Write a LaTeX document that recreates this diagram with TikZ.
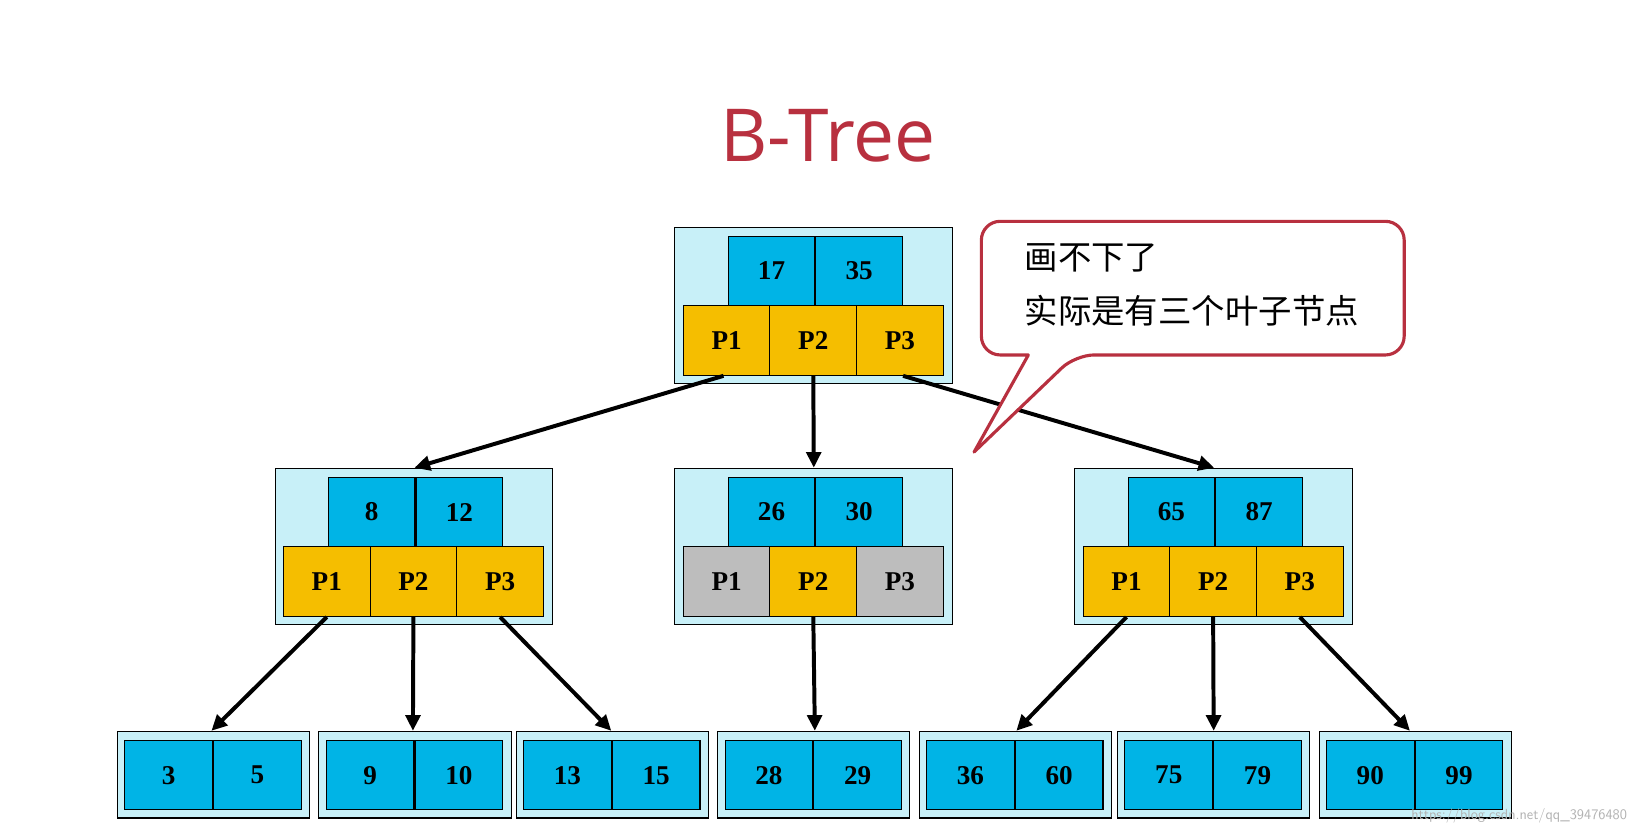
\documentclass[tikz,border=0pt]{standalone}
\usepackage{fontspec}
\setmainfont{Liberation Serif}
\newfontfamily\cjk{Noto Sans CJK SC}
\newfontfamily\ttl{Open Sans}
\usetikzlibrary{arrows.meta}
\definecolor{keyb}{HTML}{00B4E6}
\definecolor{ptry}{HTML}{F5BE00}
\definecolor{boxc}{HTML}{C8F0F8}
\definecolor{gry}{HTML}{BDBDBD}
\definecolor{ttlred}{HTML}{B8303F}
\tikzset{
 outer/.style={draw=black, fill=boxc, line width=1pt, minimum width=266pt, minimum height=150pt, inner sep=0},
 leafo/.style={draw=black, fill=boxc, line width=1pt, minimum width=184pt, minimum height=83pt, inner sep=0},
 cell/.style={draw=black, line width=1pt, font=\bfseries\fontsize{26}{26}\selectfont, inner sep=0},
 keyc/.style={cell, fill=keyb, minimum width=83pt, minimum height=66pt},
 ptr/.style={cell, fill=ptry, minimum width=83pt, minimum height=67pt},
 gptr/.style={ptr, fill=gry},
 leafc/.style={cell, fill=keyb, minimum width=84pt, minimum height=66pt},
 arr/.style={-{Triangle[length=15pt,width=14pt]}, line width=3.8pt},
}
\newcommand{\inode}[6]{%
 \node[outer, anchor=north west] (#1) at (#2,#3) {};%
 \node[keyc, anchor=north east] (#1k1) at (#2+135,#3+9) {#4};%
 \node[keyc, anchor=north west] (#1k2) at (#2+135,#3+9) {#5};%
 #6%
}
\newcommand{\leaf}[4]{%
 \node[leafo, anchor=north west] (#1) at (#2,700) {};%
 \node[leafc, anchor=north east] (#1a) at (#2+92,709) {#3};%
 \node[leafc, anchor=north west] (#1b) at (#2+92,709) {#4};%
}
\begin{document}
\begin{tikzpicture}[x=1pt,y=-1pt]
\fill[white] (0,0) rectangle (1568,799);
\node[text=ttlred, font=\ttl\fontsize{70}{70}\selectfont] (title) at (793,130) {B-Tree};
\inode{r}{646}{217}{17}{35}{%
 \node[ptr, anchor=north west] (rp1) at (654,292) {P1};
 \node[ptr, anchor=north west] (rp2) at (737,292) {P2};
 \node[ptr, anchor=north west] (rp3) at (820,292) {P3};}
\inode{a}{263}{448}{8}{12}{%
 \node[ptr, anchor=north west] (ap1) at (271,523) {P1};
 \node[ptr, anchor=north west] (ap2) at (354,523) {P2};
 \node[ptr, anchor=north west] (ap3) at (437,523) {P3};}
\inode{b}{646}{448}{26}{30}{%
 \node[gptr, anchor=north west] (bp1) at (654,523) {P1};
 \node[ptr, anchor=north west] (bp2) at (737,523) {P2};
 \node[gptr, anchor=north west] (bp3) at (820,523) {P3};}
\inode{c}{1029}{448}{65}{87}{%
 \node[ptr, anchor=north west] (cp1) at (1037,523) {P1};
 \node[ptr, anchor=north west] (cp2) at (1120,523) {P2};
 \node[ptr, anchor=north west] (cp3) at (1203,523) {P3};}
\leaf{l1}{112}{3}{5}
\leaf{l2}{305}{9}{10}
\leaf{l3}{494}{13}{15}
\leaf{l4}{687}{28}{29}
\leaf{l5}{880}{36}{60}
\leaf{l6}{1070}{75}{79}
\leaf{l7}{1263}{90}{99}
\draw[arr] ([xshift=-3pt]rp1.south) -- ([xshift=-133pt]a.north east);
\draw[arr] (rp2.south) -- (b.north);
\draw[arr] ([xshift=3pt]rp3.south) -- ([xshift=-133pt]c.north east);
\draw[arr] (ap1.south) -- ([xshift=-2pt]l1.north);
\draw[arr] (ap2.south) -- ([xshift=-2pt]l2.north);
\draw[arr] (ap3.south) -- ([xshift=-1pt]l3.north);
\draw[arr] (bp2.south) -- ([xshift=1pt]l4.north);
\draw[arr] (cp1.south) -- ([xshift=1pt]l5.north);
\draw[arr] (cp2.south) -- (l6.north);
\draw[arr] (cp3.south) -- ([xshift=-5pt]l7.north);
\coordinate (tip) at (933,433);
\draw[draw=ttlred, line width=3pt, fill=white, rounded corners=18pt, line join=round]
 (985,340) -- (940,340) -- (940,212) -- (1345,212) -- (1345,340) -- (1030,340)
 [sharp corners] -- (tip) -- cycle;
\node[anchor=west, font=\cjk\fontsize{32}{32}\selectfont] (ct1) at (978,247) {画不下了};
\node[anchor=west, font=\cjk\fontsize{32}{32}\selectfont] (ct2) at (978,298) {实际是有三个叶子节点};
\node[anchor=east, text=black!30, font=\sffamily\fontsize{14}{14}\selectfont] (wm) at (1562,781) {https://blog.csdn.net/qq\_39476480};
\pgfresetboundingbox
\useasboundingbox (0,0) rectangle (1568,799);
\end{tikzpicture}
\end{document}
